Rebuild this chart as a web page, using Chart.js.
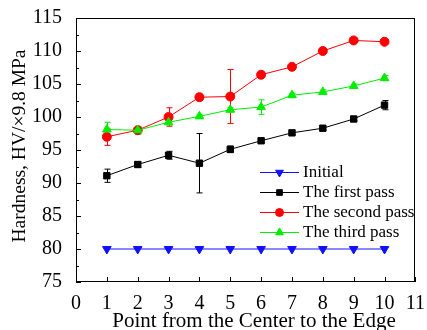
<!DOCTYPE html>
<html>
<head>
<meta charset="utf-8">
<script src="https://cdn.jsdelivr.net/npm/chart.js@4"></script>
<style>
    html, body { margin: 0; padding: 0; background: #ffffff; }
    #wrap { width: 427px; height: 330px; }
</style>
</head>
<body>
<div id="wrap"><canvas id="chart-hardness" width="427" height="330"></canvas></div>
<script>
// Measuring points, center -> edge
const points = [1, 2, 3, 4, 5, 6, 7, 8, 9, 10];

// Hardness (HV x 9.8 MPa)
const initial = [80, 80, 80, 80, 80, 80, 80, 80, 80, 80];
const firstPass = [91.1, 92.8, 94.2, 93.0, 95.1, 96.4, 97.6, 98.3, 99.7, 101.8];
const secondPass = [97.0, 98.0, 100.0, 103.0, 103.1, 106.4, 107.6, 110.0, 111.6, 111.4];
const thirdPass = [98.1, 98.0, 99.2, 100.1, 101.1, 101.5, 103.3, 103.8, 104.7, 105.9];

// error bars (+/-)
const initialErr = [0, 0, 0, 0, 0, 0, 0, 0, 0, 0];
const firstErr = [1.0, 0.4, 0.6, 4.5, 0.5, 0.3, 0.3, 0.3, 0.3, 0.7];
const secondErr = [1.3, 0.4, 1.4, 0.5, 4.1, 0.4, 0.3, 0.3, 0.3, 0.3];
const thirdErr = [1.1, 0.6, 0.4, 0.3, 0.3, 1.1, 0.3, 0.3, 0.3, 0.4];

const seriesLabels = ['Initial', 'The first pass', 'The second pass', 'The third pass'];
const xTitle = 'Point from the Center to the Edge';
const yTitle = 'Hardness, HV/\u00d79.8 MPa';

const FONT = '"Liberation Serif", "Times New Roman", serif';

const colors = {
    initial: '#1010ff',
    first: '#000000',
    second: '#ff0000',
    third: '#00ee00'
};

function toXY(values) {
    return points.map((p, i) => ({ x: p, y: values[i] }));
}

// error bars drawn behind the markers
const errorBars = {
    id: 'errorBars',
    beforeDatasetsDraw(chart) {
        const ctx = chart.ctx;
        const xs = chart.scales.x;
        const ys = chart.scales.y;
        ctx.save();
        ctx.lineWidth = 1;
        chart.data.datasets.forEach(ds => {
            if (!ds.errors) return;
            ctx.strokeStyle = ds.borderColor;
            ds.data.forEach((pt, i) => {
                const e = ds.errors[i];
                if (!e) return;
                const px = Math.round(xs.getPixelForValue(pt.x)) + 0.5;
                const top = ys.getPixelForValue(pt.y + e);
                const bot = ys.getPixelForValue(pt.y - e);
                ctx.beginPath();
                ctx.moveTo(px, top);
                ctx.lineTo(px, bot);
                ctx.moveTo(px - 3, top);
                ctx.lineTo(px + 3, top);
                ctx.moveTo(px - 3, bot);
                ctx.lineTo(px + 3, bot);
                ctx.stroke();
            });
        });
        ctx.restore();
    }
};

// frame + inward ticks + axis titles
const frame = {
    id: 'frame',
    afterDraw(chart) {
        const ctx = chart.ctx;
        const a = chart.chartArea;
        const xs = chart.scales.x;
        const ys = chart.scales.y;
        ctx.save();
        ctx.strokeStyle = '#000000';
        ctx.lineWidth = 1;
        ctx.strokeRect(Math.round(a.left) + 0.5, Math.round(a.top) + 0.5,
            Math.round(a.right - a.left) - 1, Math.round(a.bottom - a.top) - 1);
        ctx.beginPath();
        xs.ticks.forEach(t => {
            const px = Math.round(xs.getPixelForValue(t.value)) + 0.5;
            ctx.moveTo(px, a.bottom);
            ctx.lineTo(px, a.bottom - 5);
        });
        ys.ticks.forEach((t, i) => {
            const py = Math.round(ys.getPixelForValue(t.value)) + 0.5;
            ctx.moveTo(a.left, py);
            ctx.lineTo(a.left + 5, py);
            if (i < ys.ticks.length - 1) {
                const mid = Math.round(ys.getPixelForValue(t.value + 2.5)) + 0.5;
                ctx.moveTo(a.left, mid);
                ctx.lineTo(a.left + 3, mid);
            }
        });
        ctx.stroke();

        // axis titles (slightly off-centre in the original)
        ctx.fillStyle = '#000000';
        ctx.textAlign = 'center';
        ctx.textBaseline = 'alphabetic';
        ctx.font = '21px ' + FONT;
        ctx.fillText(xTitle, 254, 327);
        ctx.translate(25, 146);
        ctx.rotate(-Math.PI / 2);
        ctx.font = '19.5px ' + FONT;
        ctx.fillText(yTitle, 0, 0);
        ctx.restore();
    }
};

// legend inside the plot, lower right
const innerLegend = {
    id: 'innerLegend',
    afterDraw(chart) {
        const ctx = chart.ctx;
        const x0 = 260, x1 = 299, textX = 303;
        const rowY = [172, 192, 212, 232];
        ctx.save();
        seriesLabels.forEach((label, i) => {
            const ds = chart.data.datasets.find(d => d.label === label);
            const y = rowY[i] + 0.5;
            ctx.strokeStyle = ds.borderColor;
            ctx.fillStyle = ds.borderColor;
            ctx.lineWidth = 1;
            ctx.beginPath();
            ctx.moveTo(x0, y);
            ctx.lineTo(x1, y);
            ctx.stroke();
            Chart.helpers.drawPoint(ctx, {
                pointStyle: ds.pointStyle,
                rotation: ds.pointRotation || 0,
                radius: ds.pointRadius - 0.5,
                borderWidth: 1
            }, (x0 + x1) / 2, y);
            ctx.font = '17px ' + FONT;
            ctx.textBaseline = 'middle';
            ctx.textAlign = 'left';
            ctx.fillStyle = '#000000';
            ctx.fillText(label, textX, rowY[i] + 1);
        });
        ctx.restore();
    }
};

function lineDataset(label, values, errs, color, style, order, extra) {
    return Object.assign({
        label: label,
        data: toXY(values),
        errors: errs,
        borderColor: color,
        backgroundColor: color,
        pointBackgroundColor: color,
        pointBorderColor: color,
        borderWidth: 1,
        pointStyle: style,
        pointRadius: 5,
        pointHoverRadius: 5,
        tension: 0,
        order: order
    }, extra || {});
}

new Chart(document.getElementById('chart-hardness'), {
    type: 'line',
    data: {
        datasets: [
            lineDataset(seriesLabels[0], initial, initialErr, colors.initial, 'triangle', 3, { pointRotation: 180 }),
            lineDataset(seriesLabels[1], firstPass, firstErr, colors.first, 'rect', 2, { pointRadius: 4.5 }),
            lineDataset(seriesLabels[2], secondPass, secondErr, colors.second, 'circle', 1, { pointRadius: 4.5 }),
            lineDataset(seriesLabels[3], thirdPass, thirdErr, colors.third, 'triangle', 0)
        ]
    },
    options: {
        responsive: false,
        animation: false,
        devicePixelRatio: 1,
        layout: { padding: { top: 18, right: 9, left: 0, bottom: 0 } },
        plugins: {
            legend: { display: false },
            tooltip: { enabled: false }
        },
        scales: {
            x: {
                type: 'linear',
                min: 0,
                max: 11,
                ticks: {
                    stepSize: 1,
                    color: '#000000',
                    padding: 2,
                    font: { family: FONT, size: 20 }
                },
                grid: { display: false },
                border: { display: false },
                afterFit(scale) { scale.height = 48; }
            },
            y: {
                min: 75,
                max: 115,
                ticks: {
                    stepSize: 5,
                    color: '#000000',
                    padding: 6,
                    font: { family: FONT, size: 20 }
                },
                grid: { display: false },
                border: { display: false },
                afterFit(scale) { scale.width = 76; }
            }
        }
    },
    plugins: [errorBars, frame, innerLegend]
});
</script>
</body>
</html>
